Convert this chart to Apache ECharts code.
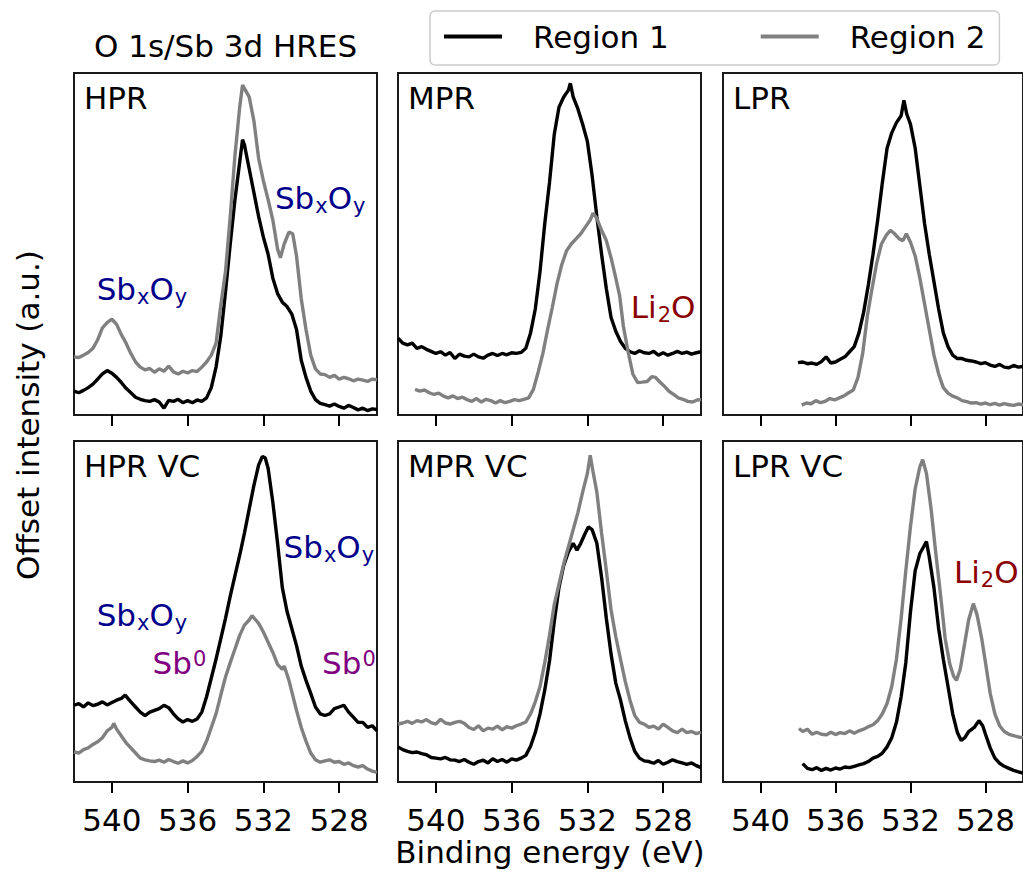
<!DOCTYPE html>
<html>
<head>
<meta charset="utf-8">
<script src="https://cdn.jsdelivr.net/npm/echarts@6/dist/echarts.min.js"></script>
<style>html,body{margin:0;padding:0;background:#fff}#chart{width:1023px;height:878px}</style>
</head>
<body>
<div id="chart"></div>
<script>
// ---------------- text / categories ----------------
const FONT = 'DejaVu Sans';
const chartTitle = 'O 1s/Sb 3d HRES';
const xAxisTitle = 'Binding energy (eV)';
const yAxisTitle = 'Offset intensity (a.u.)';
const panelNames = ['HPR', 'MPR', 'LPR', 'HPR VC', 'MPR VC', 'LPR VC'];
const seriesNames = ['Region 1', 'Region 2'];
const seriesColors = ['#000000', '#808080'];
const tickValues = [528, 532, 536, 540];
const xMin = 526, xMax = 542;

// ---------------- series values: [binding energy (eV), offset intensity (a.u.)] ----------------
const hprRegion1 = [[542,7.0],[541.75,6.5],[541.5,7.2],[541.25,8.0],[541,9.0],[540.75,10.5],[540.5,12.0],[540.25,13.0],[540,12.2],[539.75,11.0],[539.5,9.5],[539.25,7.8],[539,6.5],[538.75,5.2],[538.5,4.6],[538.25,4.2],[538,4.0],[537.75,4.5],[537.5,3.8],[537.25,2.0],[537,4.3],[536.75,4.0],[536.5,4.6],[536.25,3.6],[536,4.2],[535.75,3.6],[535.5,4.4],[535.25,4.0],[535,5.0],[534.75,8.0],[534.5,14.0],[534.25,23.0],[534,36.0],[533.75,50.0],[533.5,63.0],[533.25,74.0],[533.1,80.5],[533,79.0],[532.75,72.0],[532.5,65.0],[532.25,58.0],[532,52.0],[531.75,47.0],[531.5,40.0],[531.25,35.5],[531,33.0],[530.75,31.7],[530.5,29.5],[530.25,25.0],[530,16.0],[529.75,11.0],[529.5,7.0],[529.25,4.5],[529,3.4],[528.75,3.0],[528.5,2.6],[528.25,3.2],[528,2.5],[527.75,2.0],[527.5,2.8],[527.25,2.2],[527,1.5],[526.75,2.0],[526.5,1.3],[526.25,1.8],[526,1.6]];
const hprRegion2 = [[542,17.0],[541.75,16.8],[541.5,17.5],[541.25,18.3],[541,19.5],[540.75,22.0],[540.5,25.5],[540.25,27.0],[540,28.0],[539.75,26.5],[539.5,23.5],[539.25,21.0],[539,18.0],[538.75,15.5],[538.5,14.0],[538.25,13.2],[538,13.6],[537.75,12.5],[537.5,13.5],[537.25,12.8],[537,14.3],[536.75,12.6],[536.5,12.0],[536.25,12.8],[536,12.3],[535.75,13.0],[535.5,12.7],[535.25,14.0],[535,15.5],[534.75,17.5],[534.5,21.0],[534.25,32.0],[534,42.0],[533.75,58.0],[533.5,76.0],[533.25,90.0],[533.1,96.5],[532.95,95.0],[532.75,93.0],[532.5,86.0],[532.25,75.0],[532,68.5],[531.75,63.0],[531.5,57.0],[531.25,48.5],[531.1,46.0],[530.9,50.0],[530.65,53.5],[530.45,53.0],[530.25,46.5],[530,34.0],[529.75,25.0],[529.5,17.5],[529.25,13.5],[529,12.0],[528.75,11.8],[528.5,11.0],[528.25,11.6],[528,10.5],[527.75,11.0],[527.5,10.6],[527.25,10.0],[527,10.5],[526.75,10.2],[526.5,9.8],[526.25,10.5],[526,10.3]];

const mprRegion1 = [[542,22.5],[541.75,21.0],[541.5,20.5],[541.25,21.0],[541,19.5],[540.75,20.0],[540.5,19.2],[540.25,18.6],[540,18.0],[539.75,18.5],[539.5,17.5],[539.25,18.3],[539,16.5],[538.75,17.8],[538.5,17.2],[538.25,17.0],[538,17.8],[537.75,17.0],[537.5,16.6],[537.25,17.5],[537,18.0],[536.75,17.4],[536.5,18.0],[536.25,17.6],[536,18.2],[535.75,18.0],[535.5,18.3],[535.25,19.5],[535,24.0],[534.75,31.0],[534.5,42.0],[534.25,56.0],[534,68.0],[533.75,82.0],[533.5,90.0],[533.25,93.0],[533,95.0],[532.9,97.0],[532.75,93.0],[532.5,89.5],[532.25,85.0],[532,80.0],[531.75,70.0],[531.5,58.0],[531.25,47.0],[531,37.0],[530.75,28.5],[530.5,24.5],[530.25,21.5],[530,19.5],[529.75,18.5],[529.5,18.0],[529.25,18.8],[529,18.2],[528.75,18.0],[528.5,18.6],[528.25,17.5],[528,18.2],[527.75,17.5],[527.5,18.0],[527.25,18.6],[527,18.0],[526.75,18.4],[526.5,17.8],[526.25,18.2],[526,18.5]];
const mprRegion2 = [[541.1,7.5],[540.85,7.0],[540.6,7.3],[540.35,6.5],[540.1,6.0],[539.85,6.4],[539.6,5.5],[539.35,5.0],[539.1,5.6],[538.85,4.8],[538.6,5.2],[538.35,4.5],[538.1,4.0],[537.85,4.8],[537.6,3.8],[537.35,4.6],[537.1,4.2],[536.85,3.5],[536.6,4.2],[536.35,3.6],[536.1,4.0],[535.85,4.5],[535.6,4.2],[535.35,4.6],[535.1,5.0],[534.85,7.5],[534.6,12.5],[534.35,18.0],[534.1,25.0],[533.85,31.5],[533.6,38.5],[533.35,44.0],[533.1,48.0],[532.85,50.0],[532.6,51.5],[532.35,53.0],[532.1,55.0],[531.85,57.0],[531.7,59.0],[531.5,57.5],[531.25,54.0],[531,51.0],[530.75,46.0],[530.5,40.0],[530.3,35.0],[530.1,26.0],[529.85,18.5],[529.6,12.0],[529.35,9.5],[529.1,9.6],[528.85,9.8],[528.6,11.2],[528.4,11.0],[528.2,9.8],[527.95,8.5],[527.7,7.0],[527.45,6.0],[527.2,5.0],[526.95,4.6],[526.7,4.0],[526.45,3.8],[526.2,4.4],[526,4.5]];

const lprRegion1 = [[538,15.3],[537.75,15.5],[537.5,15.0],[537.25,15.2],[537,14.8],[536.75,15.6],[536.5,17.0],[536.25,15.2],[536,15.5],[535.75,16.3],[535.5,17.0],[535.25,18.5],[535,20.0],[534.75,24.0],[534.5,30.0],[534.25,38.0],[534,47.0],[533.75,57.0],[533.5,68.0],[533.25,78.0],[533,82.5],[532.75,85.5],[532.5,87.5],[532.35,92.0],[532.2,88.0],[532,85.0],[531.75,78.0],[531.5,67.0],[531.25,56.0],[531,47.0],[530.75,39.0],[530.5,31.0],[530.25,24.0],[530,20.0],[529.75,17.5],[529.5,16.5],[529.25,16.5],[529,16.0],[528.75,15.8],[528.5,15.5],[528.25,15.0],[528,15.3],[527.75,14.6],[527.5,14.2],[527.25,14.8],[527,14.0],[526.75,13.8],[526.5,14.5],[526.25,14.0],[526,14.2]];
const lprRegion2 = [[537.8,2.9],[537.55,3.5],[537.3,3.3],[537.05,4.2],[536.8,3.6],[536.55,4.0],[536.3,4.8],[536.05,4.4],[535.8,5.0],[535.55,5.6],[535.3,6.5],[535.05,7.3],[534.8,11.0],[534.55,18.0],[534.3,29.0],[534.05,37.0],[533.8,44.5],[533.55,50.0],[533.3,52.5],[533.07,54.0],[532.85,53.0],[532.6,51.5],[532.4,51.0],[532.22,53.0],[532,50.5],[531.75,46.5],[531.5,40.0],[531.25,32.5],[531,25.0],[530.75,17.5],[530.5,12.0],[530.25,8.0],[530,6.4],[529.75,5.5],[529.5,5.0],[529.25,4.2],[529,3.9],[528.75,3.5],[528.5,3.6],[528.25,3.2],[528,3.5],[527.75,3.0],[527.5,3.4],[527.25,2.9],[527,3.3],[526.75,3.0],[526.5,2.8],[526.25,3.2],[526,3.0]];

const hprVcRegion1 = [[542,22.5],[541.75,23.0],[541.5,22.0],[541.25,23.2],[541,22.4],[540.75,22.8],[540.5,23.5],[540.25,22.6],[540,23.3],[539.75,24.0],[539.5,24.5],[539.3,25.5],[539,23.5],[538.75,22.0],[538.5,20.5],[538.25,19.5],[538,20.5],[537.75,21.0],[537.5,21.5],[537.25,22.5],[537,21.8],[536.75,20.0],[536.5,18.5],[536.25,17.6],[536,18.3],[535.75,17.8],[535.5,18.5],[535.25,20.5],[535,25.0],[534.75,30.5],[534.5,36.0],[534.25,42.0],[534,48.0],[533.75,54.5],[533.5,60.5],[533.25,66.5],[533,73.0],[532.75,80.0],[532.5,87.0],[532.25,93.0],[532.05,95.5],[531.9,95.0],[531.75,92.0],[531.5,82.0],[531.25,70.0],[531,57.0],[530.75,50.0],[530.5,45.0],[530.25,40.0],[530,34.0],[529.75,29.8],[529.5,26.0],[529.25,22.0],[529,20.0],[528.75,19.5],[528.5,20.0],[528.25,21.5],[528,22.0],[527.75,22.5],[527.5,20.5],[527.25,19.0],[527,17.5],[526.75,17.5],[526.5,16.0],[526.25,16.5],[526,15.0]];
const hprVcRegion2 = [[542,8.8],[541.75,8.5],[541.5,9.5],[541.25,10.0],[541,11.0],[540.75,11.8],[540.5,13.0],[540.25,15.0],[540,16.0],[539.9,17.2],[539.75,15.5],[539.5,13.5],[539.25,11.5],[539,10.0],[538.75,8.5],[538.5,7.0],[538.25,6.5],[538,6.2],[537.75,6.0],[537.5,6.4],[537.25,5.8],[537,6.6],[536.75,6.0],[536.5,5.5],[536.25,6.2],[536,5.6],[535.75,6.3],[535.5,7.5],[535.25,9.0],[535,12.0],[534.75,16.0],[534.5,20.0],[534.25,25.5],[534,30.8],[533.75,35.0],[533.5,39.0],[533.25,43.0],[533,46.0],[532.75,47.5],[532.6,48.8],[532.4,47.5],[532.25,46.5],[532,44.0],[531.75,41.0],[531.5,38.0],[531.25,34.5],[531,33.0],[530.9,34.0],[530.65,29.8],[530.5,26.5],[530.25,21.0],[530,16.0],[529.75,12.0],[529.5,8.5],[529.25,6.5],[529,5.8],[528.75,6.2],[528.5,6.5],[528.25,5.8],[528,6.0],[527.75,5.2],[527.5,5.6],[527.25,4.8],[527,4.4],[526.75,4.8],[526.5,3.8],[526.25,3.2],[526,2.8]];

const mprVcRegion1 = [[542,10.3],[541.75,9.5],[541.5,9.0],[541.25,8.6],[541,8.8],[540.75,8.3],[540.5,8.0],[540.25,7.2],[540,7.0],[539.75,6.8],[539.5,7.2],[539.25,6.5],[539,6.4],[538.75,6.0],[538.5,6.6],[538.25,5.8],[538,5.2],[537.75,6.0],[537.5,6.4],[537.25,5.6],[537,6.8],[536.75,6.0],[536.5,6.6],[536.25,5.8],[536,6.8],[535.75,6.4],[535.5,7.0],[535.25,7.8],[535,10.5],[534.75,14.5],[534.5,20.0],[534.25,27.0],[534,35.5],[533.75,47.0],[533.5,57.0],[533.25,63.5],[533,67.5],[532.75,70.0],[532.55,68.0],[532.35,70.0],[532.15,72.5],[531.95,74.8],[531.75,74.0],[531.5,70.0],[531.25,60.0],[531,48.0],[530.75,37.5],[530.5,29.0],[530.25,24.0],[530,18.0],[529.75,13.0],[529.5,9.0],[529.25,7.0],[529,6.2],[528.75,6.0],[528.5,5.5],[528.25,6.3],[528,5.2],[527.75,5.8],[527.5,6.5],[527.25,6.0],[527,5.6],[526.75,5.2],[526.5,5.6],[526.25,4.8],[526,4.2]];
const mprVcRegion2 = [[542,17.0],[541.75,17.3],[541.5,17.8],[541.25,17.2],[541,18.0],[540.75,17.6],[540.5,18.3],[540.25,17.4],[540,17.0],[539.75,18.4],[539.5,17.3],[539.25,17.0],[539,17.5],[538.75,17.8],[538.5,17.2],[538.25,16.0],[538,15.4],[537.75,16.5],[537.5,15.0],[537.25,15.8],[537,15.5],[536.75,16.4],[536.5,15.3],[536.25,16.2],[536,15.8],[535.75,16.5],[535.5,17.0],[535.25,17.6],[535,20.0],[534.75,23.5],[534.5,28.0],[534.25,35.0],[534,43.0],[533.75,52.0],[533.5,58.0],[533.25,64.0],[533,69.0],[532.75,74.0],[532.5,79.0],[532.25,85.0],[532,90.5],[531.85,95.8],[531.7,91.0],[531.5,85.0],[531.25,73.0],[531,62.0],[530.75,50.5],[530.5,42.6],[530.25,36.0],[530,29.5],[529.75,24.0],[529.5,19.5],[529.25,17.5],[529,17.0],[528.75,16.0],[528.5,16.4],[528.25,15.5],[528,17.0],[527.75,16.0],[527.5,15.0],[527.25,14.5],[527,15.5],[526.75,14.5],[526.5,14.8],[526.25,14.2],[526,14.6]];

const lprVcRegion1 = [[537.75,5.4],[537.5,4.0],[537.25,3.6],[537,4.2],[536.75,3.4],[536.5,4.0],[536.25,3.5],[536,4.1],[535.75,3.8],[535.5,4.4],[535.25,4.2],[535,4.6],[534.75,5.0],[534.5,5.4],[534.25,6.0],[534,7.0],[533.75,7.5],[533.5,8.5],[533.25,10.3],[533,13.0],[532.75,17.5],[532.5,25.0],[532.25,35.0],[532,50.0],[531.75,62.0],[531.5,67.0],[531.3,69.0],[531.15,70.5],[531,66.0],[530.75,57.0],[530.5,45.0],[530.25,36.0],[530,28.0],[529.75,20.0],[529.5,14.5],[529.3,12.2],[529.1,13.0],[528.9,14.8],[528.6,16.0],[528.35,18.0],[528.15,16.5],[528,14.0],[527.75,10.0],[527.5,7.0],[527.25,5.5],[527,4.6],[526.75,4.0],[526.5,3.4],[526.25,3.0],[526,2.6]];
const lprVcRegion2 = [[537.95,15.7],[537.75,14.8],[537.5,15.5],[537.25,14.0],[537,14.6],[536.75,14.0],[536.5,13.8],[536.25,14.6],[536,13.9],[535.75,14.5],[535.5,14.2],[535.25,15.0],[535,14.3],[534.75,15.0],[534.5,15.5],[534.25,16.2],[534,16.8],[533.75,18.0],[533.5,20.0],[533.25,23.0],[533,28.0],[532.75,36.0],[532.5,48.0],[532.25,62.0],[532,75.0],[531.75,86.0],[531.5,92.5],[531.35,94.5],[531.15,90.5],[530.9,80.0],[530.65,67.0],[530.4,55.0],[530.15,42.0],[529.9,34.5],[529.7,31.0],[529.55,29.8],[529.35,33.0],[529.1,41.0],[528.9,47.5],[528.65,52.3],[528.45,49.0],[528.2,42.0],[528,35.0],[527.75,26.0],[527.5,20.0],[527.25,16.5],[527,14.8],[526.75,14.0],[526.5,13.6],[526.25,13.2],[526,13.0]];

const panelData = [
  [hprRegion1, hprRegion2],
  [mprRegion1, mprRegion2],
  [lprRegion1, lprRegion2],
  [hprVcRegion1, hprVcRegion2],
  [mprVcRegion1, mprVcRegion2],
  [lprVcRegion1, lprVcRegion2]
];

// ---------------- peak annotations: panel index, species, position (eV, intensity) ----------------
const annotationPanels = [0, 0, 1, 3, 3, 3, 3, 5];
const annotationKinds  = ['SbxOy', 'SbxOy', 'Li2O', 'SbxOy', 'Sb0', 'SbxOy', 'Sb0', 'Li2O'];
const annotationX      = [538.41, 529.0, 528.0, 538.41, 536.43, 528.54, 527.48, 527.96];
const annotationY      = [36.8, 63.5, 31.7, 49.0, 34.9, 68.9, 34.9, 61.6];

// ---------------- layout ----------------
const colLeft = [74, 398, 723];
const rowTop = [73, 441];
const panelW = 303, panelH = 342;

const kindFormat = {
  SbxOy: '{nA|Sb}{sA|x}{nA|O}{sA|y}',
  Li2O:  '{nB|Li}{sB|2}{nB|O}',
  Sb0:   '{pC|Sb}{uC|0}'
};
function richFor(color, key) {
  const r = {};
  r['n' + key] = { fontSize: 31, fontFamily: FONT, color: color, lineHeight: 31, verticalAlign: 'top' };
  r['s' + key] = { fontSize: 21, fontFamily: FONT, color: color, lineHeight: 21, verticalAlign: 'top', padding: [13, 0, 0, 1] };
  r['p' + key] = { fontSize: 31, fontFamily: FONT, color: color, lineHeight: 31, verticalAlign: 'bottom' };
  r['u' + key] = { fontSize: 21, fontFamily: FONT, color: color, lineHeight: 21, verticalAlign: 'bottom', padding: [0, 0, 9, 1] };
  return r;
}
const rich = Object.assign({}, richFor('#00008b', 'A'), richFor('#8b0000', 'B'), richFor('#800080', 'C'));

const grids = [], xAxes = [], yAxes = [], series = [], graphics = [];
for (let i = 0; i < 6; i++) {
  const col = i % 3, row = Math.floor(i / 3);
  const left = colLeft[col], top = rowTop[row];
  const h = row === 0 ? panelH : panelH - 1;
  grids.push({ left: left, top: top, width: panelW, height: h, show: true,
    borderColor: '#1a1a1a', borderWidth: 2, backgroundColor: 'transparent' });
  xAxes.push({
    type: 'value', gridIndex: i, min: xMin, max: xMax, inverse: true,
    axisLine: { show: false },
    splitLine: { show: false },
    axisTick: { show: true, customValues: tickValues, length: 11, lineStyle: { color: '#000', width: 2 } },
    axisLabel: { show: row === 1, customValues: tickValues, margin: 22, fontSize: 31, fontFamily: FONT, color: '#000' }
  });
  yAxes.push({ type: 'value', gridIndex: i, min: 0, max: 100, show: false });
  for (let s = 0; s < 2; s++) {
    series.push({
      name: seriesNames[s], type: 'line', xAxisIndex: i, yAxisIndex: i,
      data: panelData[i][s], showSymbol: false, symbol: 'none',
      color: seriesColors[s],
      lineStyle: { color: seriesColors[s], width: 3.4 },
      z: 3 + s, animation: false, silent: true
    });
  }
  const ann = [];
  for (let k = 0; k < annotationPanels.length; k++) {
    if (annotationPanels[k] !== i) continue;
    ann.push({ value: [annotationX[k], annotationY[k]], label: { formatter: kindFormat[annotationKinds[k]] } });
  }
  if (ann.length) {
    series.push({
      type: 'scatter', xAxisIndex: i, yAxisIndex: i, data: ann, symbolSize: 1,
      itemStyle: { color: 'rgba(0,0,0,0)', opacity: 1 }, silent: true, animation: false, z: 6,
      label: { show: true, position: 'inside', align: 'center', verticalAlign: 'middle', opacity: 1, rich: rich }
    });
  }
  graphics.push({ type: 'text', x: left + 10, y: top + 9,
    style: { text: panelNames[i], fontSize: 31, fontFamily: FONT, fill: '#000', align: 'left', verticalAlign: 'top' } });
}

graphics.push({ type: 'text', x: 225.5, y: 46,
  style: { text: chartTitle, fontSize: 31, fontFamily: FONT, fill: '#000', align: 'center', verticalAlign: 'middle' } });
graphics.push({ type: 'text', x: 550, y: 852,
  style: { text: xAxisTitle, fontSize: 31, fontFamily: FONT, fill: '#000', align: 'center', verticalAlign: 'middle' } });
graphics.push({ type: 'text', x: 28, y: 415, rotation: Math.PI / 2,
  style: { text: yAxisTitle, fontSize: 31, fontFamily: FONT, fill: '#000', align: 'center', verticalAlign: 'middle' } });

const option = {
  backgroundColor: '#ffffff',
  animation: false,
  legend: {
    data: seriesNames, left: 430, top: 11, orient: 'horizontal',
    icon: 'rect', itemWidth: 58, itemHeight: 4, itemGap: 92,
    padding: [10, 14, 13, 14],
    borderColor: '#cccccc', borderWidth: 1.5, borderRadius: 5, backgroundColor: '#ffffff',
    selectedMode: false,
    textStyle: { fontSize: 31, fontFamily: FONT, color: '#000', padding: [0, 0, 0, 26] }
  },
  grid: grids, xAxis: xAxes, yAxis: yAxes, series: series, graphic: graphics
};
const chart = echarts.init(document.getElementById('chart'), null, { renderer: 'svg' });
chart.setOption(option);
</script>
</body>
</html>
